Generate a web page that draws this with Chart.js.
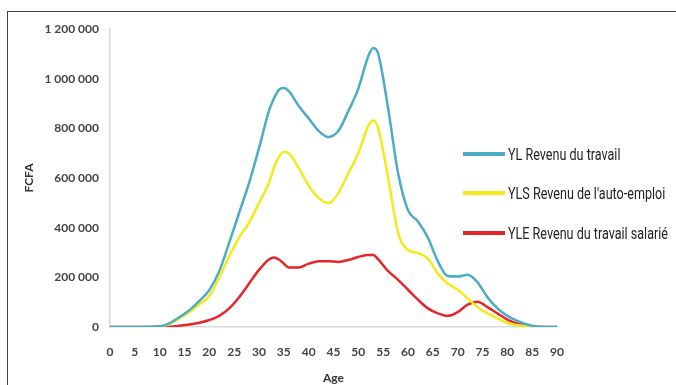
<!DOCTYPE html>
<html>
<head>
<meta charset="utf-8">
<script src="https://cdn.jsdelivr.net/npm/chart.js@4.4.0/dist/chart.umd.min.js"></script>
<style>
  body { margin: 0; background: #fff; }
  #wrap { position: relative; width: 676px; height: 385px; overflow: hidden; }
  #frame { position: absolute; left: 7px; top: 11px; width: 720px; height: 420px; border: 1.5px solid #444; }
  #myChart { position: absolute; left: 0; top: 0; }
  #legend { position: absolute; left: 463px; top: 134px; font-family: "Roboto", sans-serif; font-size: 17px; color: #222; }
  #legend div { height: 39.5px; display: flex; align-items: center; white-space: nowrap; }
  #legend i { display: inline-block; width: 42px; height: 4px; margin-right: 3px; }
  #legend span { display: inline-block; transform: scaleX(0.74); transform-origin: left center; }
</style>
</head>
<body>
<div id="wrap">
  <div id="frame"></div>
  <canvas id="myChart" width="676" height="385"></canvas>
  <div id="legend"></div>
</div>
<script>
const ctx = document.getElementById("myChart");

// ages (years)
var ages = [0, 5, 10, 12, 14, 16, 18, 20, 22, 24, 26, 28, 30, 32, 33, 34, 35, 36, 38, 40, 42, 44, 46, 48, 50, 52, 53, 54, 56, 58, 60, 62, 64, 66, 68, 70, 72, 74, 76, 78, 80, 82, 84, 86, 88, 90];

// YL revenu du travail
var yl  = [0, 0, 3000, 16000, 40000, 68000, 105000, 149000, 225000, 340000, 460000, 580000, 720000, 870000, 920000, 955000, 962000, 950000, 890000, 840000, 790000, 765000, 790000, 870000, 960000, 1090000, 1123000, 1100000, 880000, 620000, 470000, 425000, 360000, 265000, 205000, 203000, 210000, 180000, 120000, 75000, 45000, 25000, 10000, 2000, 0, 0];
// YLS revenu de l'auto-emploi
var yls = [0, 0, 2000, 12000, 35000, 60000, 92000, 125000, 200000, 285000, 360000, 420000, 500000, 580000, 640000, 685000, 705000, 700000, 640000, 570000, 520000, 499000, 540000, 620000, 700000, 810000, 833000, 800000, 600000, 380000, 310000, 298000, 275000, 215000, 175000, 150000, 115000, 80000, 55000, 35000, 16000, 8000, 3000, 0, 0, 0];
// YLE revenu du travail salarie
var yle = [0, 0, 0, 1000, 5000, 10000, 17000, 28000, 45000, 75000, 120000, 175000, 230000, 272000, 280000, 272000, 255000, 240000, 240000, 255000, 265000, 265000, 262000, 270000, 282000, 290000, 290000, 272000, 225000, 190000, 150000, 110000, 75000, 55000, 45000, 60000, 90000, 102000, 80000, 55000, 30000, 14000, 5000, 0, 0, 0];

var names = ["YL Revenu du travail", "YLS Revenu de l'auto-emploi", "YLE Revenu du travail salarié"];
var colors = ["#4bacc6", "#f2ea1a", "#e4262b"];

function pts(v) {
  return ages.map(function (a, i) { return { x: a, y: v[i] }; });
}

var series = [yl, yls, yle];
var tickFont = { family: "Lato", size: 12, weight: "bold" };

new Chart(ctx, {
  type: 'line',
  data: {
    datasets: series.map(function (s, i) {
      return {
        label: names[i],
        data: pts(s),
        borderColor: colors[i],
        backgroundColor: colors[i],
        borderWidth: 2.5,
        pointRadius: 0,
        cubicInterpolationMode: 'monotone',
        fill: false
      };
    })
  },
  options: {
    responsive: false,
    animation: false,
    layout: { padding: { top: 29, right: 119, left: 0, bottom: 0 } },
    plugins: { legend: { display: false }, tooltip: { enabled: false } },
    scales: {
      x: {
        type: 'linear',
        min: 0, max: 90,
        grid: { display: false },
        border: { display: true, color: '#d9d9d9', width: 1.5 },
        ticks: { stepSize: 5, color: '#444', font: tickFont, padding: 10, maxRotation: 0 },
        title: { display: true, text: 'Age', color: '#333', font: { family: "Lato", size: 12, weight: "bold" }, padding: { top: 4, bottom: 0 } },
        afterFit: function (s) { s.height = 58; }
      },
      y: {
        min: 0, max: 1200000,
        grid: { display: false },
        border: { display: true, color: '#d9d9d9', width: 1.5 },
        ticks: {
          stepSize: 200000, color: '#444', font: tickFont, padding: 3,
          callback: function (v) { return String(v).replace(/\B(?=(\d{3})+(?!\d))/g, ' '); }
        },
        title: { display: true, text: 'FCFA', color: '#333', font: { family: "Lato", size: 12, weight: "bold" }, padding: { top: 22 } },
        afterFit: function (s) { s.width = 110; }
      }
    }
  }
});

// legend
var lg = document.getElementById("legend");
names.forEach(function (n, i) {
  var row = document.createElement("div");
  row.innerHTML = '<i style="background:' + colors[i] + '"></i><span>' + n + '</span>';
  lg.appendChild(row);
});
</script>
</body>
</html>
